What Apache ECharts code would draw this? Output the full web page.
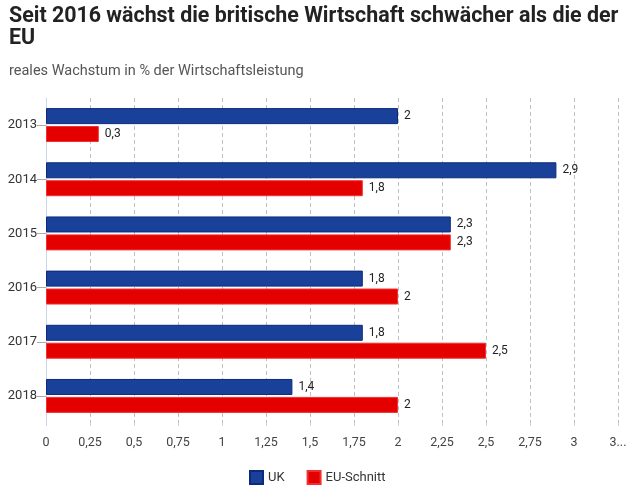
<!DOCTYPE html>
<html><head><meta charset="utf-8">
<script src="https://cdn.jsdelivr.net/npm/echarts@6/dist/echarts.min.js"></script>
<style>html,body{margin:0;padding:0;background:#fff}#c{width:640px;height:488px}</style>
</head><body><div id="c"></div>
<script>
const categories = ['2013','2014','2015','2016','2017','2018'];
const ukValues = [2, 2.9, 2.3, 1.8, 1.8, 1.4];
const euValues = [0.3, 1.8, 2.3, 2, 2.5, 2];
const seriesNames = ['UK', 'EU-Schnitt'];
const titleText = 'Seit 2016 wächst die britische Wirtschaft schwächer als die der\nEU';
const subtitleText = 'reales Wachstum in % der Wirtschaftsleistung';

const fmt = v => String(v).replace('.', ',');
const chart = echarts.init(document.getElementById('c'));
chart.setOption({
  animation: false,
  textStyle: {fontFamily: 'Roboto, "Liberation Sans", sans-serif'},
  title: [
    {text: titleText, left: 4, top: 1,
     textStyle: {fontFamily: 'Roboto, sans-serif', fontSize: 21.4, fontWeight: 'bold', color: '#222', lineHeight: 22}},
    {text: subtitleText, left: 4, top: 59,
     textStyle: {fontFamily: 'Roboto, sans-serif', fontSize: 14.5, fontWeight: 'normal', color: '#555'}}
  ],
  legend: {
    top: 465, left: 244, icon: 'rect', itemWidth: 13, itemHeight: 13, itemGap: 22,
    textStyle: {fontSize: 13, color: '#333'},
    data: seriesNames
  },
  grid: {left: 46, right: 22, top: 98, bottom: 65, containLabel: false},
  xAxis: {
    type: 'value', min: 0, max: 3.25, interval: 0.25,
    axisLine: {show: false},
    axisTick: {show: true, length: 3, lineStyle: {color: '#ccd6eb'}},
    splitLine: {show: true, lineStyle: {color: '#c0c0c0', type: [4, 3]}},
    axisLabel: {margin: 13, fontSize: 12.5, color: '#444',
      formatter: v => Math.abs(v - 3.25) < 1e-9 ? '3...' : fmt(v)}
  },
  yAxis: {
    type: 'category', data: categories, inverse: true,
    axisLine: {show: true, lineStyle: {color: '#ccd6eb', width: 1}},
    axisTick: {show: true, alignWithLabel: true, length: 9, lineStyle: {color: '#aaa'}},
    axisLabel: {margin: 9, fontSize: 13, color: '#333'}
  },
  series: [
    {name: seriesNames[0], type: 'bar', data: ukValues, barWidth: 16, barGap: '12%',
     itemStyle: {color: '#1a4199', borderColor: '#0c2a7a', borderWidth: 1},
     label: {show: true, position: 'right', distance: 6, fontSize: 12, color: '#222', formatter: p => fmt(p.value)}},
    {name: seriesNames[1], type: 'bar', data: euValues, barWidth: 16,
     itemStyle: {color: '#e50000', borderColor: '#f03030', borderWidth: 1},
     label: {show: true, position: 'right', distance: 6, fontSize: 12, color: '#222', formatter: p => fmt(p.value)}}
  ]
});
</script></body></html>
